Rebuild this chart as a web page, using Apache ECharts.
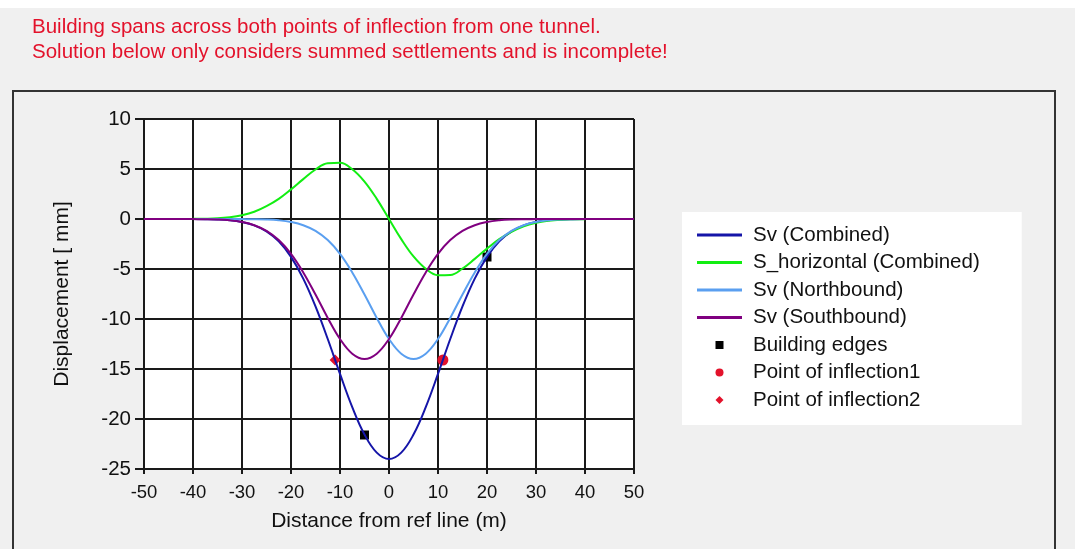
<!DOCTYPE html>
<html>
<head>
<meta charset="utf-8">
<script src="https://cdn.jsdelivr.net/npm/echarts@6/dist/echarts.min.js"></script>
<style>
  body { margin: 0; background: #fff; }
  #chart-container { width: 1075px; height: 549px; }
</style>
</head>
<body>
<div id="chart-container"></div>
<script>
// distance from ref line (m)
const distance = [-40, -37.5, -35, -32.5, -30, -27.5, -25, -22.5, -20, -17.5, -15, -12.5, -10, -7.5, -5, -2.5,
    0, 2.5, 5, 7.5, 10, 12.5, 15, 17.5, 20, 22.5, 25, 27.5, 30, 32.5, 35, 37.5, 40];
const distanceWide = [-50, -47.5, -45, -42.5, -40, -37.5, -35, -32.5, -30, -27.5, -25, -22.5, -20, -17.5, -15, -12.5,
    -10, -7.5, -5, -2.5, 0, 2.5, 5, 7.5, 10, 12.5, 15, 17.5, 20, 22.5, 25, 27.5, 30, 32.5, 35, 37.5, 40, 42.5, 45, 47.5, 50];

// displacement (mm)
const svCombined = [-0.01, -0.02, -0.05, -0.13, -0.31, -0.64, -1.24, -2.24, -3.79, -5.96, -8.74, -12.0, -15.49, -18.81, -21.55, -23.36,
    -24.0, -23.36, -21.55, -18.81, -15.49, -12.0, -8.74, -5.96, -3.79, -2.24, -1.24, -0.64, -0.31, -0.13, -0.05, -0.02, -0.01];
const sHorizontal = [0.02, 0.03, 0.07, 0.18, 0.38, 0.72, 1.28, 2.01, 2.96, 3.99, 4.95, 5.58, 5.62, 4.97, 3.74, 2.01,
    0, -2.01, -3.74, -4.97, -5.62, -5.6, -4.95, -3.99, -2.96, -2.01, -1.28, -0.72, -0.38, -0.18, -0.07, -0.03, -0.02];
const svNorth = [0, 0, 0, 0, -0.01, -0.02, -0.05, -0.13, -0.3, -0.62, -1.19, -2.11, -3.49, -5.34, -7.55, -9.89,
    -12.0, -13.47, -14.0, -13.47, -12.0, -9.89, -7.55, -5.34, -3.49, -2.11, -1.19, -0.62, -0.3, -0.13, -0.05, -0.02, -0.01];
const svSouth = [0, 0, 0, 0, -0.01, -0.02, -0.05, -0.13, -0.3, -0.62, -1.19, -2.11, -3.49, -5.34, -7.55, -9.89,
    -12.0, -13.47, -14.0, -13.47, -12.0, -9.89, -7.55, -5.34, -3.49, -2.11, -1.19, -0.62, -0.3, -0.13, -0.05, -0.02, -0.01,
    0, 0, 0, 0, 0, 0, 0, 0];

const buildingX = [-5, 20];
const buildingY = [-21.6, -3.8];
const inflection1 = [[11, -14.1]];
const inflection2 = [[-11, -14.1]];

function pairs(xs, ys) {
    return xs.map((x, i) => [x, ys[i]]);
}

let dom = document.getElementById("chart-container");
let myChart = echarts.init(dom, null, { renderer: "canvas" });

const font = "Liberation Sans";
const red = "#e3122b";
const gridLine = { color: "#1a1a1a", width: 2 };

// legend icons (kept to aspect inside the 45x8 legend box)
const lineIcon = "path://M0,0 L45,0 L45,3 L0,3 Z";
const squareIcon = "path://M0,0 L10,0 L10,10 L0,10 Z";
const diamondIcon = "path://M5,0 L10,5 L5,10 L0,5 Z";

let option = {
    animation: false,
    backgroundColor: "#f0f0f0",
    textStyle: { fontFamily: font },
    title: {
        text: "Building spans across both points of inflection from one tunnel.\nSolution below only considers summed settlements and is incomplete!",
        left: 32,
        top: 15,
        padding: 0,
        textStyle: { color: red, fontSize: 20.5, fontWeight: "normal", lineHeight: 25, fontFamily: font },
    },
    graphic: [
        { type: "rect", shape: { x: 0, y: 0, width: 1075, height: 8 }, style: { fill: "#fff" }, silent: true },
        { type: "rect", shape: { x: 13, y: 91, width: 1042, height: 480 }, style: { fill: "none", stroke: "#333", lineWidth: 2 }, silent: true },
    ],
    legend: {
        orient: "vertical",
        left: 682,
        top: 212,
        padding: [12, 42, 14, 15],
        backgroundColor: "#fff",
        itemWidth: 45,
        itemHeight: 8,
        itemGap: 5.5,
        textStyle: { fontSize: 20.5, lineHeight: 22, color: "#111", fontFamily: font, padding: [0, 0, 0, 6] },
        data: [
            { name: "Sv (Combined)", icon: lineIcon },
            { name: "S_horizontal (Combined)", icon: lineIcon },
            { name: "Sv (Northbound)", icon: lineIcon },
            { name: "Sv (Southbound)", icon: lineIcon },
            { name: "Building edges", icon: squareIcon },
            { name: "Point of inflection1", icon: "circle" },
            { name: "Point of inflection2", icon: diamondIcon },
        ],
    },
    grid: {
        left: 144,
        top: 119,
        width: 490,
        height: 350,
        show: true,
        backgroundColor: "#fff",
        borderWidth: 0,
    },
    xAxis: {
        type: "value",
        min: -50,
        max: 50,
        interval: 10,
        name: "Distance from ref line (m)",
        nameLocation: "middle",
        nameGap: 42,
        nameTextStyle: { fontSize: 21, color: "#111", fontFamily: font },
        axisLine: { show: true, onZero: false, lineStyle: gridLine },
        axisTick: { show: true, length: 5, lineStyle: gridLine },
        axisLabel: { fontSize: 18.5, color: "#111", margin: 14 },
        splitLine: { show: true, lineStyle: gridLine },
    },
    yAxis: {
        type: "value",
        min: -25,
        max: 10,
        interval: 5,
        name: "Displacement [ mm]",
        nameLocation: "middle",
        nameRotate: 90,
        nameGap: 71,
        nameTextStyle: { fontSize: 21, color: "#111", fontFamily: font },
        axisLine: { show: true, onZero: false, lineStyle: gridLine },
        axisTick: { show: true, length: 9, lineStyle: gridLine },
        axisLabel: { fontSize: 20.5, color: "#111", margin: 13 },
        splitLine: { show: true, lineStyle: gridLine },
    },
    series: [
        {
            name: "Sv (Combined)",
            type: "line",
            smooth: 0.4,
            symbol: "none",
            data: pairs(distance, svCombined),
            lineStyle: { color: "#1515a8", width: 2 },
            itemStyle: { color: "#1515a8" },
        },
        {
            name: "S_horizontal (Combined)",
            type: "line",
            smooth: 0.4,
            symbol: "none",
            data: pairs(distance, sHorizontal),
            lineStyle: { color: "#12ee12", width: 2 },
            itemStyle: { color: "#12ee12" },
        },
        {
            name: "Sv (Northbound)",
            type: "line",
            smooth: 0.4,
            symbol: "none",
            data: pairs(distance, svNorth),
            lineStyle: { color: "#5a9ff0", width: 2 },
            itemStyle: { color: "#5a9ff0" },
        },
        {
            name: "Sv (Southbound)",
            type: "line",
            smooth: 0.4,
            symbol: "none",
            data: pairs(distanceWide, svSouth),
            lineStyle: { color: "#800080", width: 2 },
            itemStyle: { color: "#800080" },
        },
        {
            name: "Building edges",
            type: "scatter",
            symbol: "rect",
            symbolSize: 9,
            data: pairs(buildingX, buildingY),
            itemStyle: { color: "#000", opacity: 1 },
        },
        {
            name: "Point of inflection1",
            type: "scatter",
            symbol: "circle",
            symbolSize: 11,
            data: inflection1,
            itemStyle: { color: red, opacity: 1 },
        },
        {
            name: "Point of inflection2",
            type: "scatter",
            symbol: "diamond",
            symbolSize: 11,
            data: inflection2,
            itemStyle: { color: red, opacity: 1 },
        },
    ],
};

if (option && typeof option === "object") {
    myChart.setOption(option);
}

window.addEventListener("resize", myChart.resize);
</script>
</body>
</html>
